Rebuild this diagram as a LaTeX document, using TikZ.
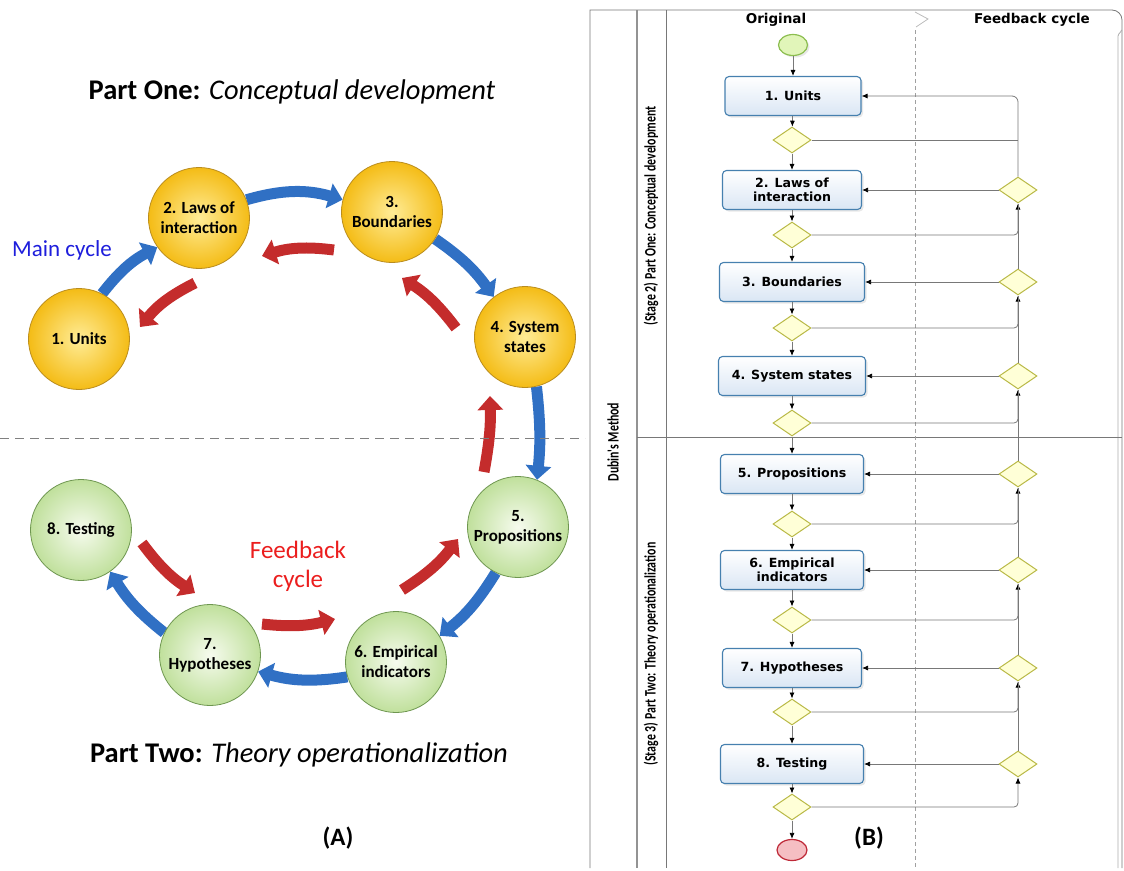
\documentclass[tikz,border=0pt]{standalone}
\usepackage{fontspec}
\setmainfont{Carlito}
\newfontfamily\boxfont{DejaVu Sans}
\newfontfamily\condfont[FakeStretch=0.74]{Carlito}
\usetikzlibrary{arrows.meta,shapes.geometric,shadows,backgrounds}

\definecolor{yin}{RGB}{255,236,150}
\definecolor{yout}{RGB}{244,188,22}
\definecolor{ybord}{RGB}{185,140,30}
\definecolor{gin}{RGB}{246,251,238}
\definecolor{gout}{RGB}{192,224,156}
\definecolor{gbord}{RGB}{110,150,80}
\definecolor{blueA}{RGB}{48,112,196}
\definecolor{redA}{RGB}{196,44,44}
\definecolor{maintxt}{RGB}{30,30,220}
\definecolor{fbtxt}{RGB}{235,30,30}
\definecolor{boxb}{RGB}{70,128,175}
\definecolor{boxf}{RGB}{218,230,244}
\definecolor{gatef}{RGB}{255,255,215}
\definecolor{gateb}{RGB}{185,185,70}
\definecolor{flowc}{RGB}{120,120,120}
\definecolor{lanec}{RGB}{120,120,120}
\definecolor{startf}{RGB}{225,245,185}
\definecolor{startb}{RGB}{140,190,80}
\definecolor{endf}{RGB}{245,190,195}
\definecolor{endb}{RGB}{190,40,55}

\begin{document}
\begin{tikzpicture}[x=1pt,y=-1pt,
  ycirc/.style={circle, draw=ybord, line width=0.8pt, inner color=yin, outer color=yout,
    minimum size=101pt, inner sep=0pt, align=center, font=\bfseries\fontsize{17}{20}\selectfont},
  gcirc/.style={circle, draw=gbord, line width=0.8pt, inner color=gin, outer color=gout,
    minimum size=101pt, inner sep=0pt, align=center, font=\bfseries\fontsize{17}{20}\selectfont},
  mainarrow/.style={line width=11pt, draw=blueA, -{Triangle[width=25pt,length=14pt]}},
  fbarrow/.style={line width=11pt, draw=redA, -{Triangle[width=25pt,length=14pt]}},
  task/.style={rectangle, rounded corners=4pt, draw=boxb, line width=1.1pt, top color=white,
    bottom color=boxf, minimum height=39pt, align=center,
    font=\boxfont\bfseries\fontsize{12.6}{14.5}\selectfont,
    drop shadow={opacity=0.18, shadow xshift=2pt, shadow yshift=-2pt}},
  gate/.style={diamond, draw=gateb, line width=1pt, fill=gatef, minimum width=38pt,
    minimum height=26pt, inner sep=0pt},
  flow/.style={draw=flowc, line width=0.8pt, -{Latex[length=6pt,width=5pt,black]}},
  link/.style={draw=flowc, line width=0.8pt},
  lane/.style={draw=lanec, line width=0.8pt},
  lanetext/.style={rotate=90, font=\condfont\bfseries\fontsize{16}{18}\selectfont},
  headtext/.style={font=\boxfont\bfseries\fontsize{13.5}{15}\selectfont},
  partlabel/.style={font=\bfseries\fontsize{25}{29}\selectfont}
]
\useasboundingbox (0,0) rectangle (1124,870);

% ---------------- (A) cycle diagram ----------------
\node[font=\fontsize{28.5}{33}\selectfont] (title1) at (292,92)
  {\textbf{Part One:} \textit{Conceptual development}};
\node[font=\fontsize{28.5}{33}\selectfont] (title2) at (299,755)
  {\textbf{Part Two:} \textit{Theory operationalization}};
\node[partlabel] (labA) at (338,838) {(A)};

\draw[gray, dashed, dash pattern=on 9pt off 6pt, line width=0.9pt] (0,438) coordinate (dl) -- (585,438) coordinate (dr);

\node[ycirc] (c1) at (79,339) {1. Units};
\node[ycirc] (c2) at (199,218) {2. Laws of\\interaction};
\node[ycirc] (c3) at (392,212) {3.\\Boundaries};
\node[ycirc] (c4) at (525,337) {4. System\\states};
\node[gcirc] (c5) at (518,527) {5.\\Propositions};
\node[gcirc] (c6) at (396,662) {6. Empirical\\indicators};
\node[gcirc] (c7) at (210,655) {7.\\Hypotheses};
\node[gcirc] (c8) at (81,530) {8. Testing};

\node[text=maintxt, font=\fontsize{23}{27}\selectfont] (mainlab) at (62,250) {Main cycle};
\node[text=fbtxt, align=center, font=\fontsize{25}{29}\selectfont] (fblab) at (298,566) {Feedback\\cycle};

% feedback arrow end points
\coordinate (r21a) at (195,283); \coordinate (r21b) at (140,327);
\coordinate (r32a) at (334,250); \coordinate (r32b) at (262,256);
\coordinate (r43a) at (456,328); \coordinate (r43b) at (402,278);
\coordinate (r54a) at (484,472); \coordinate (r54b) at (490,396);
\coordinate (r65a) at (402,590); \coordinate (r65b) at (458,539);
\coordinate (r76a) at (262,624); \coordinate (r76b) at (335,619);
\coordinate (r87a) at (142,543); \coordinate (r87b) at (195,593);

\begin{scope}[on background layer]
  \draw[mainarrow] (c1.63) to[bend left=12] (c2.215);
  \draw[mainarrow] (c2.21) to[bend left=16] (c3.166);
  \draw[mainarrow] (c3.-32) to[bend left=10] (c4.128);
  \draw[mainarrow] (c4.-77) to[bend left=6] (c5.68);
  \draw[mainarrow] (c5.-116) to[bend left=10] (c6.31);
  \draw[mainarrow] (c6.197) to[bend left=12] (c7.-19);
  \draw[mainarrow] (c7.154) to[bend left=10] (c8.-55);

  \draw[fbarrow] (r21a) to[bend right=12] (r21b);
  \draw[fbarrow] (r32a) to[bend right=12] (r32b);
  \draw[fbarrow] (r43a) to[bend right=10] (r43b);
  \draw[fbarrow] (r54a) to[bend right=6] (r54b);
  \draw[fbarrow] (r65a) to[bend right=10] (r65b);
  \draw[fbarrow] (r76a) to[bend right=10] (r76b);
  \draw[fbarrow] (r87a) to[bend right=10] (r87b);
\end{scope}

% ---------------- (B) process diagram ----------------
% pool and lanes
\draw[lane] (590,868) -- (590,10) -- (1112,10) to[out=0,in=90] (1122,20) -- (1122,868);
\draw[draw=lanec!60, line width=0.8pt] (1118,868) -- (1118,36) to[out=90,in=0] (1121,30);
\draw[lane, line width=1.6pt, draw=lanec!80] (637,10) -- (637,868);
\draw[lane] (666,10) -- (666,868);
\draw[lane] (637,437) -- (1122,437);
\draw[draw=lanec!70, line width=0.8pt, dashed, dash pattern=on 4pt off 3pt] (915,30) -- (915,868);
\draw[draw=lanec!50, line width=0.8pt] (915,12) -- (928,19) -- (916,27);

\node[headtext] (h1) at (776,20) {Original};
\node[headtext] (h2) at (1032,20) {Feedback cycle};
\node[lanetext] (l0) at (613,442) {Dubin's Method};
\node[lanetext] (l1) at (651,216) {(Stage 2) Part One: Conceptual development};
\node[lanetext] (l2) at (651,654) {(Stage 3) Part Two: Theory operationalization};

\node[ellipse, draw=startb, line width=1.2pt, fill=startf, minimum width=29pt, minimum height=21pt,
  drop shadow={opacity=0.18, shadow xshift=2pt, shadow yshift=-2pt}] (start) at (793,45) {};
\node[ellipse, draw=endb, line width=1.2pt, fill=endf, minimum width=30pt, minimum height=21pt] (stop) at (792,850) {};

\node[task, minimum width=136pt] (b1) at (793,96) {1. Units};
\node[task, minimum width=139pt] (b2) at (792,190) {2. Laws of\\interaction};
\node[task, minimum width=145pt] (b3) at (792,282) {3. Boundaries};
\node[task, minimum width=147pt] (b4) at (792,376) {4. System states};
\node[task, minimum width=143pt] (b5) at (792,474) {5. Propositions};
\node[task, minimum width=143pt] (b6) at (792,570) {6. Empirical\\indicators};
\node[task, minimum width=139pt] (b7) at (792,668) {7. Hypotheses};
\node[task, minimum width=143pt] (b8) at (792,764) {8. Testing};

\node[gate] (d1) at (792,140) {};
\node[gate] (d2) at (792,235) {};
\node[gate] (d3) at (792,328) {};
\node[gate] (d4) at (792,423) {};
\node[gate] (d5) at (792,524) {};
\node[gate] (d6) at (792,620) {};
\node[gate] (d7) at (792,712) {};
\node[gate] (d8) at (792,807) {};

\node[gate] (f2) at (1018,190) {};
\node[gate] (f3) at (1018,282) {};
\node[gate] (f4) at (1018,376) {};
\node[gate] (f5) at (1018,474) {};
\node[gate] (f6) at (1018,570) {};
\node[gate] (f7) at (1018,668) {};
\node[gate] (f8) at (1018,764) {};

\node[partlabel] (labB) at (869,838) {(B)};

% main sequence
\draw[flow] (start) -- (b1);
\foreach \i in {1,...,8} { \draw[flow] (b\i) -- (d\i); }
\foreach \i/\j in {1/2,2/3,3/4,4/5,5/6,6/7,7/8} { \draw[flow] (d\i) -- (b\j); }
\draw[flow] (d8) -- (stop);

% feedback loops
\draw[flow, rounded corners=6pt] (f2.north) |- (b1.east);
\draw[link, rounded corners=4pt] (d1.east) -- (d1.east -| f2.north);
\foreach \i in {2,...,8} {
  \draw[flow] (f\i) -- (b\i);
  \draw[flow, rounded corners=4pt] (d\i.east) -| (f\i.south);
}
\foreach \i/\j in {3/2,4/3,5/4,6/5,7/6,8/7} { \draw[link] (f\i.north) -- (f\j.south); }
\end{tikzpicture}
\end{document}
